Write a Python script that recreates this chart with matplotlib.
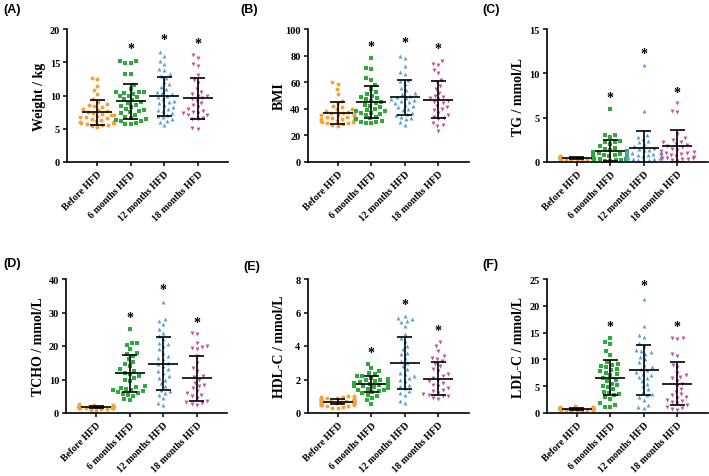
import matplotlib
matplotlib.use('Agg')
import matplotlib.pyplot as plt
import numpy as np

groups = ['Before HFD', '6 months HFD', '12 months HFD', '18 months HFD']
colors = ['#F5A23C', '#2EAA3C', '#5E9FD8', '#C4519B']
markers = ['o', 's', '^', 'v']

# (A) weight
weight_before = [12.7, 12.5, 11.4, 10.8, 10.2, 9.5, 9.0, 8.7, 8.5, 8.4, 8.2, 8.0, 7.8, 7.6, 7.5, 7.4, 7.2, 7.1,
                 7.0, 6.9, 6.8, 6.7, 6.6, 6.5, 6.3, 6.2, 6.1, 6.0, 5.9, 5.9, 5.8, 5.7, 5.6, 5.5, 5.4, 5.3]
weight_6m = [15.2, 15.2, 14.9, 14.9, 13.3, 13.3, 11.6, 11.0, 10.6, 10.5, 10.5, 10.4, 10.3, 10.0, 9.9, 9.7, 9.5, 9.3,
             9.0, 8.9, 8.6, 8.4, 8.3, 8.0, 7.8, 7.7, 7.5, 7.3, 7.1, 6.8, 6.6, 6.4, 6.3, 6.2, 6.2, 5.8, 5.7, 5.7]
weight_12m = [16.5, 16.0, 15.2, 14.7, 14.0, 13.8, 13.3, 13.0, 12.7, 12.0, 11.7, 11.3, 11.0, 10.6, 10.4, 10.2, 10.0,
              9.7, 9.4, 9.2, 9.0, 8.8, 8.6, 8.3, 8.0, 7.8, 7.6, 7.4, 7.1, 6.9, 6.7, 6.5, 6.2, 6.0, 5.5]
weight_18m = [16.1, 15.7, 14.7, 14.5, 13.1, 12.4, 11.9, 11.0, 10.6, 10.2, 10.0, 9.9, 9.6, 9.4, 9.2, 8.8, 8.5, 8.2,
              7.9, 7.6, 7.5, 7.4, 7.3, 7.1, 7.0, 6.6, 6.5, 6.4, 5.1, 5.0]
weight_mean = [7.45, 9.1, 9.85, 9.6]
weight_sd = [1.85, 2.65, 2.95, 3.1]
weight_star = [None, 17.0, 18.4, 17.8]

# (B) BMI
bmi_before = [60, 59, 55, 51, 46, 44, 42, 41, 40, 39.5, 38, 37.5, 37, 36.5, 36, 35.5, 35, 34.5, 34, 33.5, 33, 32.5,
              32, 31.5, 31, 31, 30.5, 30, 30, 29.5, 29, 28.5, 28, 27]
bmi_6m = [78, 71, 70, 63, 62, 58, 55, 53, 51, 50, 49, 48, 47, 46, 45, 44, 43, 42, 41, 40, 39, 38.5, 38, 37, 36.5,
          36, 35, 34, 33, 32, 31, 30, 30, 29, 29]
bmi_12m = [80, 78, 72, 68, 66, 62, 61, 59, 56, 54, 52, 51, 50, 49, 48, 47, 46.5, 46, 45, 44, 43, 42, 41, 40, 39,
           37, 36, 35, 34, 33, 32, 30, 28]
bmi_18m = [76, 74, 73, 69, 67, 62, 60, 57, 55, 52, 50, 49, 48, 47, 46, 45, 44, 42, 41, 40, 39, 37, 35, 34, 33, 32,
           29, 28, 27, 23]
bmi_mean = [36.8, 45.0, 48.5, 46.9]
bmi_sd = [8.4, 11.9, 13.1, 13.8]
bmi_star = [None, 87.2, 89.6, 85.0]

# (C) TG
tg_before = [0.7, 0.65, 0.6, 0.6, 0.55, 0.55, 0.5, 0.5, 0.5, 0.45, 0.45, 0.45, 0.4, 0.4, 0.4, 0.4, 0.35, 0.35,
             0.35, 0.3, 0.3, 0.3, 0.3, 0.25, 0.25, 0.2, 0.2]
tg_6m = [6.0, 3.1, 3.0, 2.8, 2.4, 2.3, 2.2, 2.0, 1.8, 1.6, 1.5, 1.3, 1.2, 1.1, 1.0, 1.0, 0.9, 0.8, 0.8, 0.7, 0.7,
         0.6, 0.6, 0.5, 0.5, 0.5, 0.4, 0.4, 0.3, 0.3, 0.3, 0.2, 0.2, 0.15, 0.1]
tg_12m = [10.9, 5.8, 3.0, 2.8, 2.6, 2.4, 2.2, 2.0, 1.8, 1.6, 1.5, 1.4, 1.3, 1.2, 1.1, 1.0, 1.0, 0.9, 0.8, 0.8, 0.7,
          0.6, 0.6, 0.5, 0.5, 0.4, 0.4, 0.3, 0.3, 0.2, 0.2, 0.1]
tg_18m = [6.7, 5.7, 5.6, 3.2, 2.7, 2.5, 2.3, 2.2, 2.0, 1.9, 1.8, 1.7, 1.5, 1.4, 1.2, 1.1, 1.0, 1.0, 0.9, 0.8, 0.8,
          0.7, 0.6, 0.5, 0.5, 0.4, 0.3, 0.3, 0.2, 0.1]
tg_mean = [0.42, 1.27, 1.58, 1.85]
tg_sd = [0.12, 1.17, 1.97, 1.8]
tg_star = [None, 7.25, 12.2, 7.85]

# (D) TCHO
tcho_before = [2.6, 2.4, 2.3, 2.2, 2.2, 2.1, 2.1, 2.0, 2.0, 2.0, 1.95, 1.9, 1.9, 1.8, 1.8, 1.75, 1.7, 1.7, 1.65,
               1.6, 1.6, 1.55, 1.5, 1.5, 1.4, 1.4, 1.3, 1.2, 1.0, 0.8]
tcho_6m = [25.2, 21, 20.8, 20.3, 19, 18, 17.5, 17, 16, 15.2, 14.5, 14, 13, 12.5, 12, 11.5, 11, 10.5, 10, 9.5, 8,
           7.8, 7.5, 7.2, 7, 6.8, 6.5, 6.2, 6, 5.8, 5.5, 5, 4.2, 3.8]
tcho_12m = [33, 28, 27.5, 26.5, 25, 24, 23, 22, 21, 20.5, 20, 19, 18, 17, 16.5, 16, 15, 14.5, 14, 13, 12.5, 12, 11,
            10.5, 10, 9, 8, 7, 6.5, 6, 5.5, 4.5, 3, 2.5]
tcho_18m = [24, 23.5, 21, 20, 19.8, 19.5, 19, 17, 15, 13.5, 12.5, 11, 10.8, 10, 9, 8.5, 8, 7.5, 6.5, 6, 5.5, 5,
            4.5, 3.5, 3.3, 3, 2.8, 2.5]
tcho_mean = [1.8, 11.9, 14.7, 10.3]
tcho_sd = [0.35, 5.5, 7.95, 6.8]
tcho_star = [None, 28.4, 36.8, 27.1]

# (E) HDL-C
hdl_before = [1.0, 1.0, 0.98, 0.95, 0.92, 0.9, 0.88, 0.85, 0.85, 0.82, 0.8, 0.78, 0.75, 0.75, 0.72, 0.7, 0.7, 0.68,
              0.65, 0.63, 0.62, 0.6, 0.58, 0.55, 0.52, 0.5, 0.48, 0.45, 0.42, 0.4, 0.38, 0.32, 0.28]
hdl_6m = [2.95, 2.7, 2.5, 2.4, 2.3, 2.2, 2.2, 2.1, 2.05, 2.0, 1.95, 1.9, 1.85, 1.8, 1.8, 1.78, 1.75, 1.72, 1.7,
          1.68, 1.65, 1.6, 1.6, 1.55, 1.5, 1.45, 1.4, 1.35, 1.3, 1.25, 1.2, 1.1, 1.0, 0.9, 0.75, 0.55]
hdl_12m = [5.8, 5.7, 5.6, 5.5, 5.45, 5.2, 4.7, 4.5, 4.3, 4.0, 3.8, 3.6, 3.5, 3.3, 3.1, 3.0, 2.8, 2.6, 2.4, 2.3,
           2.2, 2.1, 2.0, 1.9, 1.7, 1.6, 1.5, 1.3, 1.2, 1.1, 0.7, 0.6]
hdl_18m = [4.25, 4.0, 3.7, 3.4, 3.3, 3.2, 3.1, 2.9, 2.8, 2.6, 2.5, 2.3, 2.2, 2.1, 2.0, 1.9, 1.8, 1.7, 1.6, 1.5,
           1.4, 1.3, 1.2, 1.15, 1.1, 1.0, 1.0, 0.9, 0.85]
hdl_mean = [0.68, 1.72, 3.0, 2.05]
hdl_sd = [0.17, 0.49, 1.55, 0.98]
hdl_star = [None, 3.6, 6.5, 4.9]

# (F) LDL-C
ldl_before = [1.3, 1.2, 1.1, 1.05, 1.0, 1.0, 1.0, 0.95, 0.9, 0.9, 0.9, 0.85, 0.85, 0.85, 0.8, 0.8, 0.8, 0.75, 0.75,
              0.7, 0.7, 0.7, 0.65, 0.6, 0.6, 0.55, 0.5, 0.45, 0.4, 0.35]
ldl_6m = [14, 13.2, 12.8, 11.5, 10.8, 9.5, 9.2, 9.0, 8.8, 8.5, 8.2, 8.0, 7.8, 7.5, 7.2, 7.0, 6.5, 6.2, 6.0, 5.5,
          5.2, 5.0, 4.8, 4.5, 4.0, 3.8, 3.5, 3.3, 3.0, 2.6, 1.8, 1.5, 1.2, 1.2]
ldl_12m = [21.3, 16.3, 14.5, 14.2, 13.0, 12.5, 11.8, 11.6, 11.3, 11.0, 10.5, 10.0, 9.5, 9.0, 8.5, 8.2, 8.0, 7.7,
           7.3, 7.0, 6.8, 6.5, 6.0, 5.5, 5.0, 4.5, 4.0, 3.5, 3.3, 3.0, 2.5, 1.5, 1.2, 1.0]
ldl_18m = [14.0, 14.0, 13.8, 11.0, 10.6, 9.0, 8.5, 7.5, 7.0, 6.8, 6.5, 6.0, 5.5, 5.0, 4.5, 4.0, 3.5, 3.3, 3.0, 2.8,
           2.5, 2.2, 2.0, 1.8, 1.5, 1.2, 1.0, 0.8, 0.6]
ldl_mean = [0.8, 6.6, 7.95, 5.45]
ldl_sd = [0.22, 3.2, 4.65, 4.0]
ldl_star = [None, 16.2, 23.7, 16.1]

panels = [
    ('(A)', 'Weight / kg', [weight_before, weight_6m, weight_12m, weight_18m], weight_mean, weight_sd, weight_star, [0, 5, 10, 15, 20]),
    ('(B)', 'BMI', [bmi_before, bmi_6m, bmi_12m, bmi_18m], bmi_mean, bmi_sd, bmi_star, [0, 20, 40, 60, 80, 100]),
    ('(C)', 'TG / mmol/L', [tg_before, tg_6m, tg_12m, tg_18m], tg_mean, tg_sd, tg_star, [0, 5, 10, 15]),
    ('(D)', 'TCHO / mmol/L', [tcho_before, tcho_6m, tcho_12m, tcho_18m], tcho_mean, tcho_sd, tcho_star, [0, 10, 20, 30, 40]),
    ('(E)', 'HDL-C / mmol/L', [hdl_before, hdl_6m, hdl_12m, hdl_18m], hdl_mean, hdl_sd, hdl_star, [0, 2, 4, 6, 8]),
    ('(F)', 'LDL-C / mmol/L', [ldl_before, ldl_6m, ldl_12m, ldl_18m], ldl_mean, ldl_sd, ldl_star, [0, 5, 10, 15, 20, 25]),
]

W, H = 709, 477
# axes boxes in pixels: left, top, width, height
boxes = [(67, 30, 161, 133), (307.5, 30, 161, 133), (546.5, 30, 161, 133),
         (66, 280, 161, 134), (307.5, 280, 161, 134), (546.5, 280, 161, 134)]
letter_pos = [(3, 10), (240, 10), (482, 10), (3, 264), (243, 267), (482, 265)]
XMIN, XMAX = -0.9, 3.9


def swarm_x(vals, ypx, xpx, min_dist=5.4, max_half=0.5):
    # simple beeswarm in pixel space, returns offsets in data units
    y = np.asarray(vals, dtype=float) * ypx
    order = np.argsort(y)
    placed_x, placed_y = [], []
    out = np.zeros(len(y))
    lim = max_half * xpx
    for k in order:
        yk = y[k]
        cands = [0.0]
        blocks = []
        for px_, py_ in zip(placed_x, placed_y):
            dy = abs(py_ - yk)
            if dy < min_dist:
                half = np.sqrt(min_dist ** 2 - dy ** 2)
                blocks.append((px_ - half, px_ + half))
                cands += [px_ - half - 1e-6, px_ + half + 1e-6]
        ok = [c for c in cands if all(not (a < c < b) for a, b in blocks)]
        best = min(ok, key=abs)
        best = float(np.clip(best, -lim, lim))
        placed_x.append(best)
        placed_y.append(yk)
        out[k] = best / xpx
    return out


serif = 'Liberation Serif'
fig = plt.figure(figsize=(W / 100, H / 100), dpi=100)

for (letter, ylabel, data, means, sds, stars, yticks), box, lp in zip(panels, boxes, letter_pos):
    l, t, w, h = box
    ax = fig.add_axes([l / W, 1 - (t + h) / H, w / W, h / H])
    ypx = h / yticks[-1]
    xpx = w / (XMAX - XMIN)
    for i, vals in enumerate(data):
        xs = i + swarm_x(vals, ypx, xpx)
        ax.scatter(xs, vals, s=8 if markers[i] != 's' else 6.5, marker=markers[i], color=colors[i],
                   linewidths=0, zorder=2)
    for i in range(4):
        m, s = means[i], sds[i]
        ax.hlines(m, i - 0.45, i + 0.45, color='black', lw=1.2, zorder=4)
        ax.vlines(i, m - s, m + s, color='black', lw=1.2, zorder=4)
        ax.hlines([m - s, m + s], i - 0.22, i + 0.22, color='black', lw=1.2, zorder=4)
        if stars[i] is not None:
            ax.text(i, stars[i], '*', ha='center', va='center', fontsize=10, fontweight='bold',
                    family=serif, color='black')
    ax.set_xlim(XMIN, XMAX)
    ax.set_ylim(0, yticks[-1])
    ax.set_yticks(yticks)
    ax.set_xticks(range(4))
    ax.set_xticklabels(groups, rotation=45, ha='right', rotation_mode='anchor',
                       family=serif, fontweight='bold', fontsize=7)
    for lab in ax.get_yticklabels():
        lab.set_family(serif)
        lab.set_fontweight('bold')
        lab.set_fontsize(7.5)
    ax.tick_params(axis='both', direction='out', length=3, width=1.1, pad=2)
    for side in ['top', 'right']:
        ax.spines[side].set_visible(False)
    for side in ['left', 'bottom']:
        ax.spines[side].set_linewidth(1.2)
    ax.set_ylabel(ylabel, family=serif, fontweight='bold', fontsize=10, va='center')
    ax.yaxis.set_label_coords(-28 / w, 0.5)
    fig.text(lp[0] / W, 1 - lp[1] / H, letter, family='Liberation Sans', fontweight='bold',
             fontsize=9, ha='left', va='center')

fig.savefig('out.png', dpi=100)
